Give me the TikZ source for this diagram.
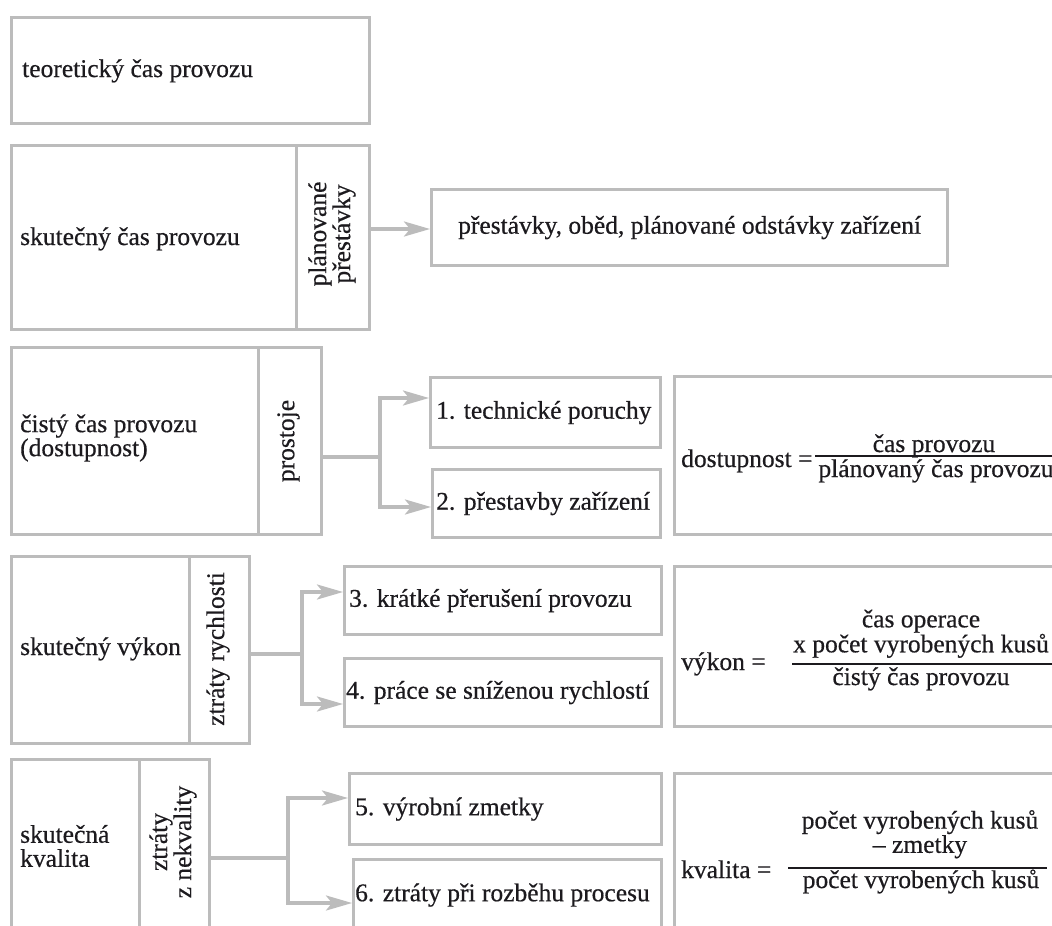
\documentclass[tikz,border=0pt]{standalone}
\usepackage{fontspec}
\setmainfont{Liberation Serif}[FakeBold=0.5]
\usetikzlibrary{arrows.meta}
\definecolor{boxgray}{RGB}{188,188,188}
\definecolor{ink}{RGB}{28,26,30}
\newcommand\diagfont{\fontsize{25.5}{24}\selectfont}
\begin{document}
\begin{tikzpicture}[x=1pt,y=-1pt,
  box/.style={draw=boxgray, line width=3.2pt, inner sep=0pt, anchor=north west},
  lbl/.style={inner sep=0pt, font=\diagfont, text=ink},
  vlbl/.style={inner sep=0pt, font=\diagfont, rotate=90, align=center, text=ink},
  link/.style={draw=boxgray, line width=3.2pt},
  arr/.style={link, -{Stealth[length=26pt,width=15pt,inset=6pt]}},
  fracbar/.style={draw=ink, line width=2pt}
]
\useasboundingbox (0,0) rectangle (1052,926);
\fill[white] (0,0) rectangle (1052,926);
\clip (0,0) rectangle (1052,926);

% --- left column: time categories ---
\node[box, minimum width=358pt, minimum height=106pt] (theo) at (10,16) {};
\node[box, minimum width=285pt, minimum height=184pt] (act) at (10,144) {};
\node[box, minimum width=73pt,  minimum height=184pt] (actS) at (295,144) {};
\node[box, minimum width=247pt, minimum height=187pt] (net) at (10,346) {};
\node[box, minimum width=63pt,  minimum height=187pt] (netS) at (257,346) {};
\node[box, minimum width=178pt, minimum height=187pt] (perf) at (10,555) {};
\node[box, minimum width=60pt,  minimum height=187pt] (perfS) at (188,555) {};
\node[box, minimum width=128pt, minimum height=187pt] (qual) at (10,758) {};
\node[box, minimum width=70pt,  minimum height=187pt] (qualS) at (138,758) {};

\node[lbl, anchor=base west] (theoT) at (22,77) {teoretický čas provozu};
\node[lbl, anchor=base west] (actT) at (20,245) {skutečný čas provozu};
\node[vlbl] (actV) at (332,234) {plánované\\přestávky};
\node[lbl, anchor=west, align=left] (netT) at (20,438) {čistý čas provozu\\(dostupnost)};
\node[vlbl] (netV) at (288.5,441) {prostoje};
\node[lbl, anchor=base west] (perfT) at (20,655) {skutečný výkon};
\node[vlbl] (perfV) at (218,649) {ztráty rychlosti};
\node[lbl, anchor=west, align=left] (qualT) at (20,846) {skutečná\\kvalita};
\node[vlbl] (qualV) at (173,842) {ztráty\\z nekvality};

% --- loss boxes ---
\node[box, minimum width=516pt, minimum height=76pt] (pause) at (430,188) {};
\node[box, minimum width=230pt, minimum height=70pt] (t1) at (429,376) {};
\node[box, minimum width=228pt, minimum height=68pt] (t2) at (431,468) {};
\node[box, minimum width=317pt, minimum height=68pt] (t3) at (343,565) {};
\node[box, minimum width=317pt, minimum height=68pt] (t4) at (343,657) {};
\node[box, minimum width=312pt, minimum height=71pt] (t5) at (348,772) {};
\node[box, minimum width=308pt, minimum height=71pt] (t6) at (352,858) {};

\node[lbl] (pauseT) at (pause.center) {přestávky, oběd, plánované odstávky zařízení};
\node[lbl, anchor=west] (t1T) at ([xshift=7pt]t1.west) {1. technické poruchy};
\node[lbl, anchor=west] (t2T) at ([xshift=5pt]t2.west) {2. přestavby zařízení};
\node[lbl, anchor=west] (t3T) at ([xshift=6pt]t3.west) {3. krátké přerušení provozu};
\node[lbl, anchor=west] (t4T) at ([xshift=3pt]t4.west) {4. práce se sníženou rychlostí};
\node[lbl, anchor=west] (t5T) at ([xshift=7pt]t5.west) {5. výrobní zmetky};
\node[lbl, anchor=west] (t6T) at ([xshift=3pt]t6.west) {6. ztráty při rozběhu procesu};

% --- formula boxes ---
\node[box, minimum width=420pt, minimum height=158pt] (f1) at (673,375) {};
\node[box, minimum width=420pt, minimum height=160pt] (f2) at (673,565) {};
\node[box, minimum width=420pt, minimum height=180pt] (f3) at (673,772) {};

\node[lbl, anchor=base west] (f1L) at (681,467) {dostupnost =};
\node[lbl, anchor=base] (f1N) at (934,452) {čas provozu};
\node[lbl, anchor=base] (f1D) at (936,477) {plánovaný čas provozu};
\draw[fracbar] (815,456) -- (1053,456);

\node[lbl, anchor=base west] (f2L) at (681,670) {výkon =};
\node[lbl, anchor=south, align=center, font=\fontsize{25.5}{25}\selectfont] (f2N) at (921,658) {čas operace\\x počet vyrobených kusů};
\node[lbl, anchor=base] (f2D) at (921,685) {čistý čas provozu};
\draw[fracbar] (792,664) -- (1053,664);

\node[lbl, anchor=base west] (f3L) at (681,878) {kvalita =};
\node[lbl, anchor=south, align=center, font=\fontsize{25.5}{21.5}\selectfont] (f3N) at (920,858.5) {počet vyrobených kusů\\– zmetky};
\node[lbl, anchor=base] (f3D) at (921,888) {počet vyrobených kusů};
\draw[fracbar] (788,868) -- (1047,868);

% --- connectors ---
\draw[arr] (actS.east |- 0,229) -- (pause.west |- 0,229);

\coordinate (j3) at (380,457);
\draw[link] (netS.east |- j3) -- (j3);
\draw[arr] (j3) |- (t1.west |- 0,398);
\draw[arr] (j3) |- (t2.west |- 0,507);

\coordinate (j4) at (302,654);
\draw[link] (perfS.east |- j4) -- (j4);
\draw[arr] (j4) |- (t3.west |- 0,592);
\draw[arr] (j4) |- (t4.west |- 0,704);

\coordinate (j5) at (288,858);
\draw[link] (qualS.east |- j5) -- (j5);
\draw[arr] (j5) |- (t5.west |- 0,798);
\draw[arr] (j5) |- (t6.west |- 0,903);
\end{tikzpicture}
\end{document}
